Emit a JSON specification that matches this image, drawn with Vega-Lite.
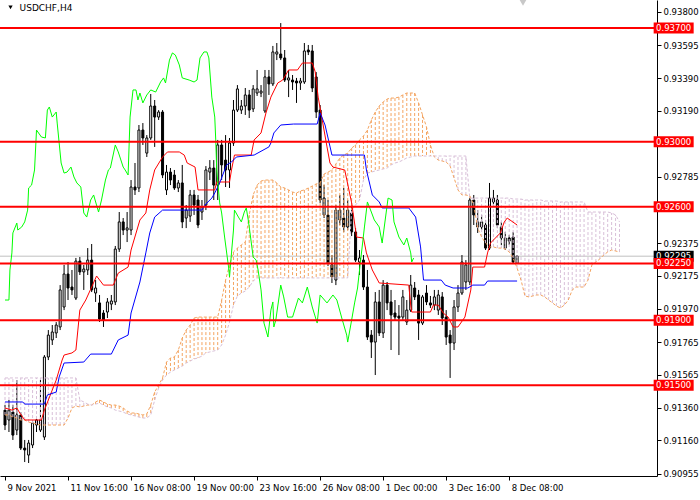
{
"$schema": "https://vega.github.io/schema/vega-lite/v6.json",
"width": 657, "height": 476,
"autosize": {"type": "none"},
"padding": {"left": 0, "top": 0, "right": 43, "bottom": 24},
"background": "#ffffff",
"config": {"view": {"stroke": null}},
"resolve": {"axis": {"x": "independent", "y": "independent"}},
"datasets": {
"candles": [
{"i":0,"o":0.91347,"h":0.91378,"l":0.91224,"c":0.91255},
{"i":1,"o":0.91286,"h":0.91409,"l":0.91212,"c":0.91347},
{"i":2,"o":0.91335,"h":0.91378,"l":0.91163,"c":0.91193},
{"i":3,"o":0.91224,"h":0.91532,"l":0.91193,"c":0.91317},
{"i":4,"o":0.91317,"h":0.91335,"l":0.91101,"c":0.91113},
{"i":5,"o":0.91113,"h":0.91163,"l":0.91027,"c":0.91101},
{"i":6,"o":0.91070,"h":0.91163,"l":0.91021,"c":0.91144},
{"i":7,"o":0.91132,"h":0.91286,"l":0.91113,"c":0.91267},
{"i":8,"o":0.91255,"h":0.91298,"l":0.91212,"c":0.91286},
{"i":9,"o":0.91224,"h":0.91532,"l":0.91212,"c":0.91286},
{"i":10,"o":0.91181,"h":0.91686,"l":0.91163,"c":0.91674},
{"i":11,"o":0.91674,"h":0.91840,"l":0.91655,"c":0.91809},
{"i":12,"o":0.91779,"h":0.91871,"l":0.91748,"c":0.91828},
{"i":13,"o":0.91822,"h":0.91889,"l":0.91791,"c":0.91871},
{"i":14,"o":0.91859,"h":0.92117,"l":0.91840,"c":0.92087},
{"i":15,"o":0.91982,"h":0.92241,"l":0.91963,"c":0.92185},
{"i":16,"o":0.92185,"h":0.92259,"l":0.92025,"c":0.92099},
{"i":17,"o":0.92105,"h":0.92210,"l":0.92056,"c":0.92087},
{"i":18,"o":0.92037,"h":0.92284,"l":0.92025,"c":0.92265},
{"i":19,"o":0.92265,"h":0.92290,"l":0.92179,"c":0.92198},
{"i":20,"o":0.92198,"h":0.92241,"l":0.92087,"c":0.92216},
{"i":21,"o":0.92210,"h":0.92345,"l":0.92179,"c":0.92271},
{"i":22,"o":0.92271,"h":0.92370,"l":0.92074,"c":0.92087},
{"i":23,"o":0.92068,"h":0.92148,"l":0.92013,"c":0.92099},
{"i":24,"o":0.92007,"h":0.92056,"l":0.91890,"c":0.91908},
{"i":25,"o":0.91945,"h":0.91963,"l":0.91859,"c":0.91902},
{"i":26,"o":0.91951,"h":0.92037,"l":0.91914,"c":0.92013},
{"i":27,"o":0.92000,"h":0.92056,"l":0.91963,"c":0.92019},
{"i":28,"o":0.92013,"h":0.92358,"l":0.91994,"c":0.92339},
{"i":29,"o":0.92339,"h":0.92567,"l":0.92321,"c":0.92506},
{"i":30,"o":0.92506,"h":0.92530,"l":0.92425,"c":0.92456},
{"i":31,"o":0.92456,"h":0.92567,"l":0.92382,"c":0.92469},
{"i":32,"o":0.92456,"h":0.92764,"l":0.92425,"c":0.92721},
{"i":33,"o":0.92721,"h":0.92869,"l":0.92672,"c":0.92703},
{"i":34,"o":0.92715,"h":0.93103,"l":0.92690,"c":0.93072},
{"i":35,"o":0.93072,"h":0.93115,"l":0.92980,"c":0.93023},
{"i":36,"o":0.92930,"h":0.93041,"l":0.92906,"c":0.93023},
{"i":37,"o":0.93023,"h":0.93294,"l":0.93011,"c":0.93220},
{"i":38,"o":0.93220,"h":0.93257,"l":0.92968,"c":0.93152},
{"i":39,"o":0.93152,"h":0.93195,"l":0.93134,"c":0.93183},
{"i":40,"o":0.93183,"h":0.93195,"l":0.92776,"c":0.92795},
{"i":41,"o":0.92703,"h":0.92857,"l":0.92672,"c":0.92813},
{"i":42,"o":0.92813,"h":0.92838,"l":0.92733,"c":0.92764},
{"i":43,"o":0.92795,"h":0.92826,"l":0.92703,"c":0.92715},
{"i":44,"o":0.92715,"h":0.92764,"l":0.92690,"c":0.92746},
{"i":45,"o":0.92746,"h":0.92857,"l":0.92468,"c":0.92506},
{"i":46,"o":0.92530,"h":0.92610,"l":0.92468,"c":0.92579},
{"i":47,"o":0.92542,"h":0.92703,"l":0.92506,"c":0.92672},
{"i":48,"o":0.92672,"h":0.92703,"l":0.92549,"c":0.92610},
{"i":49,"o":0.92641,"h":0.92672,"l":0.92468,"c":0.92487},
{"i":50,"o":0.92567,"h":0.92641,"l":0.92518,"c":0.92598},
{"i":51,"o":0.92610,"h":0.92850,"l":0.92579,"c":0.92826},
{"i":52,"o":0.92813,"h":0.92887,"l":0.92764,"c":0.92838},
{"i":53,"o":0.92838,"h":0.92887,"l":0.92641,"c":0.92733},
{"i":54,"o":0.92733,"h":0.93011,"l":0.92641,"c":0.92980},
{"i":55,"o":0.92980,"h":0.93011,"l":0.92764,"c":0.92857},
{"i":56,"o":0.92887,"h":0.93041,"l":0.92721,"c":0.92826},
{"i":57,"o":0.92826,"h":0.93023,"l":0.92715,"c":0.92992},
{"i":58,"o":0.92992,"h":0.93257,"l":0.92974,"c":0.93195},
{"i":59,"o":0.93195,"h":0.93349,"l":0.93183,"c":0.93325},
{"i":60,"o":0.93195,"h":0.93257,"l":0.93171,"c":0.93220},
{"i":61,"o":0.93220,"h":0.93331,"l":0.93165,"c":0.93288},
{"i":62,"o":0.93288,"h":0.93319,"l":0.93146,"c":0.93195},
{"i":63,"o":0.93202,"h":0.93349,"l":0.93183,"c":0.93325},
{"i":64,"o":0.93300,"h":0.93442,"l":0.93282,"c":0.93325},
{"i":65,"o":0.93300,"h":0.93349,"l":0.93275,"c":0.93312},
{"i":66,"o":0.93189,"h":0.93442,"l":0.93177,"c":0.93399},
{"i":67,"o":0.93399,"h":0.93442,"l":0.93288,"c":0.93356},
{"i":68,"o":0.93356,"h":0.93590,"l":0.93343,"c":0.93553},
{"i":69,"o":0.93540,"h":0.93608,"l":0.93503,"c":0.93553},
{"i":70,"o":0.93540,"h":0.93731,"l":0.93503,"c":0.93516},
{"i":71,"o":0.93516,"h":0.93565,"l":0.93368,"c":0.93380},
{"i":72,"o":0.93380,"h":0.93442,"l":0.93275,"c":0.93393},
{"i":73,"o":0.93380,"h":0.93411,"l":0.93319,"c":0.93368},
{"i":74,"o":0.93374,"h":0.93393,"l":0.93239,"c":0.93362},
{"i":75,"o":0.93362,"h":0.93393,"l":0.93319,"c":0.93374},
{"i":76,"o":0.93368,"h":0.93608,"l":0.93356,"c":0.93559},
{"i":77,"o":0.93565,"h":0.93596,"l":0.93534,"c":0.93553},
{"i":78,"o":0.93559,"h":0.93596,"l":0.93306,"c":0.93331},
{"i":79,"o":0.93399,"h":0.93429,"l":0.93146,"c":0.93183},
{"i":80,"o":0.93195,"h":0.93226,"l":0.92623,"c":0.92641},
{"i":81,"o":0.92549,"h":0.92733,"l":0.92530,"c":0.92653},
{"i":82,"o":0.92549,"h":0.92641,"l":0.92234,"c":0.92253},
{"i":83,"o":0.92241,"h":0.92302,"l":0.92130,"c":0.92167},
{"i":84,"o":0.92148,"h":0.92610,"l":0.92117,"c":0.92579},
{"i":85,"o":0.92518,"h":0.92672,"l":0.92487,"c":0.92579},
{"i":86,"o":0.92530,"h":0.92715,"l":0.92444,"c":0.92475},
{"i":87,"o":0.92475,"h":0.92641,"l":0.92456,"c":0.92579},
{"i":88,"o":0.92561,"h":0.92610,"l":0.92419,"c":0.92444},
{"i":89,"o":0.92444,"h":0.92468,"l":0.92259,"c":0.92271},
{"i":90,"o":0.92259,"h":0.92333,"l":0.92179,"c":0.92284},
{"i":91,"o":0.92271,"h":0.92302,"l":0.92087,"c":0.92105},
{"i":92,"o":0.92105,"h":0.92210,"l":0.91779,"c":0.91797},
{"i":93,"o":0.91809,"h":0.91840,"l":0.91668,"c":0.91766},
{"i":94,"o":0.91766,"h":0.92074,"l":0.91563,"c":0.92013},
{"i":95,"o":0.92013,"h":0.92087,"l":0.91803,"c":0.91822},
{"i":96,"o":0.91822,"h":0.92148,"l":0.91791,"c":0.92117},
{"i":97,"o":0.92117,"h":0.92136,"l":0.91963,"c":0.92007},
{"i":98,"o":0.92013,"h":0.92087,"l":0.91717,"c":0.91933},
{"i":99,"o":0.91945,"h":0.92025,"l":0.91902,"c":0.91920},
{"i":100,"o":0.91926,"h":0.91994,"l":0.91686,"c":0.91914},
{"i":101,"o":0.91920,"h":0.92087,"l":0.91902,"c":0.92044},
{"i":102,"o":0.91890,"h":0.92025,"l":0.91871,"c":0.91963},
{"i":103,"o":0.91963,"h":0.92179,"l":0.91951,"c":0.92117},
{"i":104,"o":0.92099,"h":0.92136,"l":0.92025,"c":0.92044},
{"i":105,"o":0.92056,"h":0.92087,"l":0.91779,"c":0.91883},
{"i":106,"o":0.91883,"h":0.92056,"l":0.91871,"c":0.92044},
{"i":107,"o":0.92068,"h":0.92117,"l":0.91994,"c":0.92013},
{"i":108,"o":0.92007,"h":0.92050,"l":0.91976,"c":0.91994},
{"i":109,"o":0.91994,"h":0.92087,"l":0.91963,"c":0.92044},
{"i":110,"o":0.91963,"h":0.92087,"l":0.91933,"c":0.92056},
{"i":111,"o":0.92044,"h":0.92074,"l":0.91871,"c":0.91914},
{"i":112,"o":0.91920,"h":0.91963,"l":0.91748,"c":0.91797},
{"i":113,"o":0.91809,"h":0.91840,"l":0.91545,"c":0.91760},
{"i":114,"o":0.91760,"h":0.92025,"l":0.91717,"c":0.91982},
{"i":115,"o":0.91982,"h":0.92117,"l":0.91951,"c":0.92068},
{"i":116,"o":0.92068,"h":0.92302,"l":0.92056,"c":0.92259},
{"i":117,"o":0.92136,"h":0.92271,"l":0.92087,"c":0.92241},
{"i":118,"o":0.92136,"h":0.92653,"l":0.92117,"c":0.92641},
{"i":119,"o":0.92641,"h":0.92672,"l":0.92487,"c":0.92549},
{"i":120,"o":0.92475,"h":0.92579,"l":0.92438,"c":0.92506},
{"i":121,"o":0.92475,"h":0.92549,"l":0.92456,"c":0.92506},
{"i":122,"o":0.92487,"h":0.92518,"l":0.92333,"c":0.92345},
{"i":123,"o":0.92345,"h":0.92746,"l":0.92333,"c":0.92653},
{"i":124,"o":0.92629,"h":0.92703,"l":0.92610,"c":0.92653},
{"i":125,"o":0.92641,"h":0.92672,"l":0.92468,"c":0.92487},
{"i":126,"o":0.92475,"h":0.92506,"l":0.92364,"c":0.92407},
{"i":127,"o":0.92345,"h":0.92444,"l":0.92333,"c":0.92407},
{"i":128,"o":0.92407,"h":0.92425,"l":0.92364,"c":0.92388},
{"i":129,"o":0.92413,"h":0.92444,"l":0.92247,"c":0.92259},
{"i":130,"o":0.92253,"h":0.92302,"l":0.92247,"c":0.92295}
],
"cloud": [
{"i":0,"a":0.91317,"b":0.91545},{"i":1,"a":0.91317,"b":0.91545},{"i":2,"a":0.91304,"b":0.91545},{"i":3,"a":0.91298,"b":0.91545},
{"i":4,"a":0.91286,"b":0.91545},{"i":5,"a":0.91286,"b":0.91545},{"i":6,"a":0.91273,"b":0.91545},{"i":7,"a":0.91267,"b":0.91545},
{"i":8,"a":0.91261,"b":0.91545},{"i":9,"a":0.91255,"b":0.91545},{"i":10,"a":0.91255,"b":0.91545},{"i":11,"a":0.91255,"b":0.91545},
{"i":12,"a":0.91255,"b":0.91545},{"i":13,"a":0.91255,"b":0.91545},{"i":14,"a":0.91255,"b":0.91545},{"i":15,"a":0.91255,"b":0.91545},
{"i":16,"a":0.91298,"b":0.91545},{"i":17,"a":0.91360,"b":0.91545},{"i":18,"a":0.91372,"b":0.91545},{"i":19,"a":0.91366,"b":0.91409},
{"i":20,"a":0.91372,"b":0.91397},{"i":21,"a":0.91378,"b":0.91384},{"i":22,"a":0.91378,"b":0.91378},{"i":23,"a":0.91397,"b":0.91384},
{"i":24,"a":0.91409,"b":0.91390},{"i":25,"a":0.91397,"b":0.91378},{"i":26,"a":0.91384,"b":0.91366},{"i":27,"a":0.91378,"b":0.91360},
{"i":28,"a":0.91378,"b":0.91347},{"i":29,"a":0.91372,"b":0.91341},{"i":30,"a":0.91360,"b":0.91335},{"i":31,"a":0.91341,"b":0.91323},
{"i":32,"a":0.91329,"b":0.91317},{"i":33,"a":0.91329,"b":0.91311},{"i":34,"a":0.91323,"b":0.91304},{"i":35,"a":0.91317,"b":0.91298},
{"i":36,"a":0.91323,"b":0.91298},{"i":37,"a":0.91378,"b":0.91317},{"i":38,"a":0.91458,"b":0.91409},{"i":39,"a":0.91501,"b":0.91483},
{"i":40,"a":0.91545,"b":0.91532},{"i":41,"a":0.91643,"b":0.91563},{"i":42,"a":0.91668,"b":0.91581},{"i":43,"a":0.91674,"b":0.91594},
{"i":44,"a":0.91717,"b":0.91606},{"i":45,"a":0.91791,"b":0.91618},{"i":46,"a":0.91840,"b":0.91637},{"i":47,"a":0.91871,"b":0.91649},
{"i":48,"a":0.91914,"b":0.91662},{"i":49,"a":0.91920,"b":0.91668},{"i":50,"a":0.91920,"b":0.91680},{"i":51,"a":0.91920,"b":0.91699},
{"i":52,"a":0.91920,"b":0.91705},{"i":53,"a":0.91920,"b":0.91711},{"i":54,"a":0.91920,"b":0.91717},{"i":55,"a":0.92025,"b":0.91748},
{"i":56,"a":0.92148,"b":0.91809},{"i":57,"a":0.92241,"b":0.91889},{"i":58,"a":0.92321,"b":0.91994},{"i":59,"a":0.92345,"b":0.92050},
{"i":60,"a":0.92364,"b":0.92068},{"i":61,"a":0.92382,"b":0.92080},{"i":62,"a":0.92549,"b":0.92105},{"i":63,"a":0.92672,"b":0.92142},
{"i":64,"a":0.92733,"b":0.92161},{"i":65,"a":0.92758,"b":0.92161},{"i":66,"a":0.92764,"b":0.92161},{"i":67,"a":0.92764,"b":0.92161},
{"i":68,"a":0.92764,"b":0.92161},{"i":69,"a":0.92746,"b":0.92161},{"i":70,"a":0.92721,"b":0.92161},{"i":71,"a":0.92715,"b":0.92161},
{"i":72,"a":0.92703,"b":0.92161},{"i":73,"a":0.92690,"b":0.92161},{"i":74,"a":0.92684,"b":0.92161},{"i":75,"a":0.92697,"b":0.92161},
{"i":76,"a":0.92703,"b":0.92161},{"i":77,"a":0.92715,"b":0.92161},{"i":78,"a":0.92727,"b":0.92161},{"i":79,"a":0.92740,"b":0.92161},
{"i":80,"a":0.92746,"b":0.92161},{"i":81,"a":0.92801,"b":0.92161},{"i":82,"a":0.92813,"b":0.92161},{"i":83,"a":0.92826,"b":0.92161},
{"i":84,"a":0.92863,"b":0.92161},{"i":85,"a":0.92900,"b":0.92161},{"i":86,"a":0.92918,"b":0.92161},{"i":87,"a":0.92930,"b":0.92161},
{"i":88,"a":0.92961,"b":0.92579},{"i":89,"a":0.92980,"b":0.92610},{"i":90,"a":0.93011,"b":0.92641},{"i":91,"a":0.93035,"b":0.92764},
{"i":92,"a":0.93072,"b":0.92807},{"i":93,"a":0.93134,"b":0.92813},{"i":94,"a":0.93183,"b":0.92820},{"i":95,"a":0.93220,"b":0.92826},
{"i":96,"a":0.93245,"b":0.92832},{"i":97,"a":0.93263,"b":0.92838},{"i":98,"a":0.93269,"b":0.92857},{"i":99,"a":0.93269,"b":0.92869},
{"i":100,"a":0.93275,"b":0.92875},{"i":101,"a":0.93288,"b":0.92887},{"i":102,"a":0.93300,"b":0.92900},{"i":103,"a":0.93300,"b":0.92906},
{"i":104,"a":0.93300,"b":0.92912},{"i":105,"a":0.93239,"b":0.92912},{"i":106,"a":0.93165,"b":0.92912},{"i":107,"a":0.93091,"b":0.92912},
{"i":108,"a":0.92980,"b":0.92912},{"i":109,"a":0.92906,"b":0.92912},{"i":110,"a":0.92887,"b":0.92912},{"i":111,"a":0.92881,"b":0.92912},
{"i":112,"a":0.92875,"b":0.92912},{"i":113,"a":0.92850,"b":0.92912},{"i":114,"a":0.92777,"b":0.92912},{"i":115,"a":0.92703,"b":0.92912},
{"i":116,"a":0.92672,"b":0.92912},{"i":117,"a":0.92672,"b":0.92912},{"i":118,"a":0.92666,"b":0.92653},{"i":119,"a":0.92610,"b":0.92653},
{"i":120,"a":0.92468,"b":0.92653},{"i":121,"a":0.92413,"b":0.92653},{"i":122,"a":0.92376,"b":0.92653},{"i":123,"a":0.92352,"b":0.92653},
{"i":124,"a":0.92352,"b":0.92653},{"i":125,"a":0.92345,"b":0.92653},{"i":126,"a":0.92345,"b":0.92653},{"i":127,"a":0.92339,"b":0.92653},
{"i":128,"a":0.92321,"b":0.92653},{"i":129,"a":0.92284,"b":0.92647},{"i":130,"a":0.92222,"b":0.92647},{"i":131,"a":0.92148,"b":0.92647},
{"i":132,"a":0.92050,"b":0.92641},{"i":133,"a":0.92044,"b":0.92641},{"i":134,"a":0.92050,"b":0.92641},{"i":135,"a":0.92056,"b":0.92641},
{"i":136,"a":0.92056,"b":0.92641},{"i":137,"a":0.92044,"b":0.92635},{"i":138,"a":0.92025,"b":0.92635},{"i":139,"a":0.92007,"b":0.92635},
{"i":140,"a":0.91988,"b":0.92635},{"i":141,"a":0.91976,"b":0.92629},{"i":142,"a":0.91994,"b":0.92629},{"i":143,"a":0.92025,"b":0.92629},
{"i":144,"a":0.92087,"b":0.92629},{"i":145,"a":0.92105,"b":0.92629},{"i":146,"a":0.92105,"b":0.92629},{"i":147,"a":0.92105,"b":0.92629},
{"i":148,"a":0.92148,"b":0.92567},{"i":149,"a":0.92241,"b":0.92567},{"i":150,"a":0.92259,"b":0.92567},{"i":151,"a":0.92278,"b":0.92567},
{"i":152,"a":0.92302,"b":0.92567},{"i":153,"a":0.92321,"b":0.92567},{"i":154,"a":0.92333,"b":0.92561},{"i":155,"a":0.92327,"b":0.92549},
{"i":156,"a":0.92321,"b":0.92506}
],
"tenkan": [
{"i":0,"v":0.91360},{"i":1.75,"v":0.91347},{"i":3,"v":0.91360},{"i":3.75,"v":0.91329},{"i":5,"v":0.91286},{"i":9.25,"v":0.91286},
{"i":10,"v":0.91347},{"i":11.5,"v":0.91440},{"i":13,"v":0.91532},{"i":14.5,"v":0.91655},{"i":15,"v":0.91686},{"i":17,"v":0.91699},
{"i":18,"v":0.91717},{"i":18.5,"v":0.91840},{"i":19,"v":0.91963},{"i":20.5,"v":0.92025},{"i":22,"v":0.92105},{"i":23.25,"v":0.92173},
{"i":25,"v":0.92117},{"i":27.5,"v":0.92117},{"i":28.75,"v":0.92191},{"i":31.25,"v":0.92228},{"i":32,"v":0.92333},{"i":34.25,"v":0.92518},
{"i":35.75,"v":0.92561},{"i":36.75,"v":0.92703},{"i":38,"v":0.92826},{"i":40,"v":0.92906},{"i":41.25,"v":0.92937},{"i":44.25,"v":0.92937},
{"i":45.5,"v":0.92918},{"i":46.25,"v":0.92869},{"i":48.25,"v":0.92844},{"i":49,"v":0.92703},{"i":53.25,"v":0.92703},{"i":53.75,"v":0.92752},
{"i":57,"v":0.92752},{"i":57.5,"v":0.92826},{"i":58.25,"v":0.92918},{"i":62.5,"v":0.92918},{"i":63.25,"v":0.93011},{"i":65,"v":0.93054},
{"i":66.25,"v":0.93177},{"i":67.5,"v":0.93275},{"i":69.25,"v":0.93362},{"i":70.5,"v":0.93380},{"i":72,"v":0.93442},{"i":74.25,"v":0.93442},
{"i":75.5,"v":0.93485},{"i":78,"v":0.93485},{"i":78.75,"v":0.93430},{"i":79.5,"v":0.93275},{"i":81.75,"v":0.92968},{"i":82.5,"v":0.92869},
{"i":83.25,"v":0.92844},{"i":86.25,"v":0.92826},{"i":88,"v":0.92623},{"i":89.25,"v":0.92413},{"i":91,"v":0.92407},{"i":91.75,"v":0.92315},
{"i":93.25,"v":0.92210},{"i":95,"v":0.92130},{"i":102.5,"v":0.92117},{"i":103,"v":0.91994},{"i":103.25,"v":0.91951},{"i":108,"v":0.91951},
{"i":108.75,"v":0.91994},{"i":110,"v":0.91994},{"i":111.25,"v":0.91945},{"i":112.5,"v":0.91920},{"i":113.75,"v":0.91859},{"i":115,"v":0.91859},
{"i":116.75,"v":0.91920},{"i":118.25,"v":0.92087},{"i":118.75,"v":0.92228},{"i":121.75,"v":0.92228},{"i":122.5,"v":0.92315},{"i":123.25,"v":0.92376},
{"i":125.75,"v":0.92438},{"i":126.75,"v":0.92506},{"i":127.5,"v":0.92530},{"i":130,"v":0.92487}
],
"kijun": [
{"i":0,"v":0.91397},{"i":4.5,"v":0.91397},{"i":5,"v":0.91384},{"i":10,"v":0.91384},{"i":10.75,"v":0.91440},{"i":13,"v":0.91458},
{"i":13.75,"v":0.91551},{"i":15,"v":0.91637},{"i":20,"v":0.91643},{"i":21.75,"v":0.91692},{"i":27,"v":0.91692},{"i":28.75,"v":0.91779},
{"i":31.25,"v":0.91809},{"i":32,"v":0.91945},{"i":34.25,"v":0.92136},{"i":35.75,"v":0.92315},{"i":36.75,"v":0.92438},{"i":38,"v":0.92536},
{"i":40,"v":0.92579},{"i":50,"v":0.92579},{"i":50.75,"v":0.92610},{"i":52.5,"v":0.92653},{"i":53.25,"v":0.92684},{"i":54.5,"v":0.92746},
{"i":56.25,"v":0.92857},{"i":57.5,"v":0.92875},{"i":58.75,"v":0.92906},{"i":63.25,"v":0.92918},{"i":67,"v":0.92968},{"i":67.5,"v":0.92992},
{"i":68.25,"v":0.93054},{"i":70,"v":0.93103},{"i":73.25,"v":0.93109},{"i":79.25,"v":0.93109},{"i":80,"v":0.93177},{"i":81.25,"v":0.93103},
{"i":83,"v":0.92918},{"i":91.25,"v":0.92918},{"i":91.75,"v":0.92826},{"i":93.25,"v":0.92672},{"i":95,"v":0.92629},{"i":95.75,"v":0.92592},
{"i":102.5,"v":0.92592},{"i":104.25,"v":0.92536},{"i":105.5,"v":0.92352},{"i":106.25,"v":0.92148},{"i":110.75,"v":0.92148},{"i":111.75,"v":0.92117},
{"i":113.75,"v":0.92099},{"i":117.5,"v":0.92099},{"i":118.75,"v":0.92117},{"i":121.75,"v":0.92117},{"i":122.5,"v":0.92142},{"i":130,"v":0.92142}
],
"chikou": [
{"i":0,"v":0.92025},{"i":1,"v":0.92025},{"i":1.25,"v":0.92210},{"i":1.75,"v":0.92315},{"i":2,"v":0.92438},{"i":3,"v":0.92499},
{"i":3.25,"v":0.92456},{"i":4.25,"v":0.92475},{"i":5,"v":0.92506},{"i":5.75,"v":0.92579},{"i":6,"v":0.92715},{"i":6.75,"v":0.92733},
{"i":7.5,"v":0.92826},{"i":8,"v":0.93072},{"i":9.25,"v":0.93029},{"i":10.25,"v":0.93023},{"i":10.75,"v":0.93195},{"i":11.25,"v":0.93214},
{"i":12,"v":0.93152},{"i":13,"v":0.93183},{"i":13.25,"v":0.93115},{"i":14.25,"v":0.92869},{"i":15,"v":0.92807},{"i":15.75,"v":0.92813},
{"i":16.75,"v":0.92844},{"i":17.5,"v":0.92783},{"i":18.25,"v":0.92746},{"i":19.25,"v":0.92721},{"i":20,"v":0.92561},{"i":20.75,"v":0.92536},
{"i":21.75,"v":0.92641},{"i":22.5,"v":0.92672},{"i":23.75,"v":0.92567},{"i":24.5,"v":0.92641},{"i":25.5,"v":0.92764},{"i":26.25,"v":0.92826},
{"i":26.75,"v":0.92838},{"i":28,"v":0.92980},{"i":28.75,"v":0.92937},{"i":30,"v":0.92844},{"i":30.5,"v":0.92826},{"i":31.25,"v":0.92795},
{"i":31.75,"v":0.93152},{"i":32.5,"v":0.93319},{"i":33.25,"v":0.93319},{"i":33.75,"v":0.93257},{"i":34.25,"v":0.93300},{"i":35,"v":0.93239},
{"i":36,"v":0.93288},{"i":37,"v":0.93319},{"i":38.25,"v":0.93306},{"i":39.5,"v":0.93368},{"i":40.25,"v":0.93393},{"i":40.75,"v":0.93362},
{"i":41.75,"v":0.93503},{"i":42.5,"v":0.93547},{"i":43.25,"v":0.93534},{"i":44.25,"v":0.93473},{"i":45,"v":0.93393},{"i":46.75,"v":0.93380},
{"i":48,"v":0.93368},{"i":48.75,"v":0.93380},{"i":49.5,"v":0.93516},{"i":50.5,"v":0.93553},{"i":51.25,"v":0.93553},{"i":51.75,"v":0.93516},
{"i":52.5,"v":0.93275},{"i":53.25,"v":0.93152},{"i":53.5,"v":0.93011},{"i":53.75,"v":0.92826},{"i":54.5,"v":0.92623},{"i":55,"v":0.92561},
{"i":55.75,"v":0.92413},{"i":56.75,"v":0.92228},{"i":57,"v":0.92167},{"i":57.5,"v":0.92315},{"i":58,"v":0.92456},{"i":58.25,"v":0.92579},
{"i":59.25,"v":0.92536},{"i":60,"v":0.92506},{"i":60.75,"v":0.92567},{"i":61.25,"v":0.92592},{"i":61.75,"v":0.92518},{"i":62,"v":0.92475},
{"i":63,"v":0.92290},{"i":63.75,"v":0.92271},{"i":64.25,"v":0.92210},{"i":65,"v":0.92087},{"i":65.75,"v":0.91883},{"i":66.75,"v":0.91797},
{"i":67.5,"v":0.91963},{"i":68,"v":0.92013},{"i":68.25,"v":0.91859},{"i":68.75,"v":0.91902},{"i":70,"v":0.92117},{"i":70.75,"v":0.92044},
{"i":71.75,"v":0.91920},{"i":73,"v":0.91920},{"i":74.5,"v":0.92037},{"i":75.5,"v":0.92007},{"i":76.75,"v":0.92105},{"i":78,"v":0.91982},
{"i":79.25,"v":0.91883},{"i":80,"v":0.92056},{"i":81.75,"v":0.92007},{"i":83.25,"v":0.92056},{"i":84.25,"v":0.92025},{"i":85.5,"v":0.91914},
{"i":86.75,"v":0.91809},{"i":87,"v":0.91766},{"i":88,"v":0.91902},{"i":88.75,"v":0.92007},{"i":89.5,"v":0.92099},{"i":90,"v":0.92210},
{"i":91.25,"v":0.92475},{"i":92,"v":0.92629},{"i":93,"v":0.92567},{"i":93.75,"v":0.92518},{"i":95,"v":0.92475},{"i":95.75,"v":0.92376},
{"i":96.75,"v":0.92561},{"i":97.25,"v":0.92653},{"i":98.25,"v":0.92641},{"i":98.75,"v":0.92506},{"i":100,"v":0.92413},{"i":101.25,"v":0.92364},
{"i":102,"v":0.92407},{"i":103,"v":0.92315},{"i":103.25,"v":0.92259},{"i":103.75,"v":0.92284}
],
"levels": [{"p":0.937},{"p":0.930},{"p":0.926},{"p":0.9225},{"p":0.919},{"p":0.915}],
"bid": [{"p":0.92295}],
"title": [{"t":"USDCHF,H4"}]
},
"layer": [
{"data":{"name":"bid"},"mark":{"type":"rule","color":"#c0c0c0","strokeWidth":1},
 "encoding":{"y":{"field":"p","type":"quantitative","scale":{"domain":[0.90941,0.93873],"nice":false,"zero":false},
  "axis":{"orient":"right","values":[0.938,0.93595,0.9339,0.9319,0.92785,0.92375,0.92175,0.9197,0.91765,0.91565,0.9136,0.9116,0.90955],"format":".5f","title":null,"grid":false,"tickSize":4,"tickColor":"#000000","domainColor":"#000000","labelFont":"DejaVu Sans","labelFontSize":8.5,"labelColor":"#000000","labelPadding":2,"labelFlush":false,"labelOverlap":false,"labelBound":false}}}},
{"data":{"name":"candles"},"mark":{"type":"rule","color":"#000000","strokeWidth":1},
 "encoding":{"x":{"field":"i","type":"quantitative","scale":{"domain":[0,164.25],"nice":false,"zero":false},
  "axis":{"orient":"bottom","values":[0,16,32,48,64,80,96,112,128],"labelExpr":"datum.value==0?'9 Nov 2021':datum.value==16?'11 Nov 16:00':datum.value==32?'16 Nov 08:00':datum.value==48?'19 Nov 00:00':datum.value==64?'23 Nov 16:00':datum.value==80?'26 Nov 08:00':datum.value==96?'1 Dec 00:00':datum.value==112?'3 Dec 16:00':'8 Dec 08:00'","title":null,"grid":false,"tickSize":4,"tickColor":"#000000","domainColor":"#000000","labelAlign":"left","labelBaseline":"top","labelFont":"DejaVu Sans","labelFontSize":8.5,"labelColor":"#000000","labelPadding":3,"labelOffset":2,"labelOverlap":false,"labelFlush":false,"labelBound":false}},
  "y":{"field":"l","type":"quantitative","scale":{"domain":[0.90941,0.93873],"nice":false,"zero":false},"axis":null},
  "y2":{"field":"h"}}},
{"data":{"name":"candles"},"mark":{"type":"bar","width":2,"stroke":"#000000","strokeWidth":1},
 "encoding":{"x":{"field":"i","type":"quantitative","scale":{"domain":[0,164.25],"nice":false,"zero":false},"axis":null},
  "y":{"field":"o","type":"quantitative","scale":{"domain":[0.90941,0.93873],"nice":false,"zero":false},"axis":null},
  "y2":{"field":"c"},
  "fill":{"condition":{"test":"datum.c >= datum.o","value":"#ffffff"},"value":"#000000"}}},
{"data":{"name":"cloud"},"mark":{"type":"rule","strokeWidth":1,"strokeDash":[3,2]},
 "encoding":{"x":{"field":"i","type":"quantitative","scale":{"domain":[0,164.25],"nice":false,"zero":false},"axis":null},
  "y":{"field":"a","type":"quantitative","scale":{"domain":[0.90941,0.93873],"nice":false,"zero":false},"axis":null},
  "y2":{"field":"b"},
  "color":{"condition":{"test":"datum.a >= datum.b","value":"#f4a460"},"value":"#d8bfd8"}}},
{"data":{"name":"cloud"},"mark":{"type":"line","color":"#f4a460","strokeWidth":1,"strokeDash":[3,2]},
 "encoding":{"x":{"field":"i","type":"quantitative","scale":{"domain":[0,164.25],"nice":false,"zero":false},"axis":null},
  "y":{"field":"a","type":"quantitative","scale":{"domain":[0.90941,0.93873],"nice":false,"zero":false},"axis":null}}},
{"data":{"name":"cloud"},"mark":{"type":"line","color":"#d8bfd8","strokeWidth":1,"strokeDash":[3,2]},
 "encoding":{"x":{"field":"i","type":"quantitative","scale":{"domain":[0,164.25],"nice":false,"zero":false},"axis":null},
  "y":{"field":"b","type":"quantitative","scale":{"domain":[0.90941,0.93873],"nice":false,"zero":false},"axis":null}}},
{"data":{"name":"tenkan"},"mark":{"type":"line","color":"#ff0000","strokeWidth":1},
 "encoding":{"x":{"field":"i","type":"quantitative","scale":{"domain":[0,164.25],"nice":false,"zero":false},"axis":null},
  "y":{"field":"v","type":"quantitative","scale":{"domain":[0.90941,0.93873],"nice":false,"zero":false},"axis":null}}},
{"data":{"name":"kijun"},"mark":{"type":"line","color":"#0000ff","strokeWidth":1},
 "encoding":{"x":{"field":"i","type":"quantitative","scale":{"domain":[0,164.25],"nice":false,"zero":false},"axis":null},
  "y":{"field":"v","type":"quantitative","scale":{"domain":[0.90941,0.93873],"nice":false,"zero":false},"axis":null}}},
{"data":{"name":"chikou"},"mark":{"type":"line","color":"#00ff00","strokeWidth":1},
 "encoding":{"x":{"field":"i","type":"quantitative","scale":{"domain":[0,164.25],"nice":false,"zero":false},"axis":null},
  "y":{"field":"v","type":"quantitative","scale":{"domain":[0.90941,0.93873],"nice":false,"zero":false},"axis":null}}},
{"data":{"name":"levels"},"mark":{"type":"rule","color":"#ff0000","strokeWidth":2},
 "encoding":{"y":{"field":"p","type":"quantitative","scale":{"domain":[0.90941,0.93873],"nice":false,"zero":false},"axis":null}}},
{"data":{"name":"bid"},"mark":{"type":"tick","orient":"horizontal","size":40,"thickness":11,"color":"#000000","opacity":1,"filled":true,"clip":false},
 "encoding":{"x":{"datum":169.75,"type":"quantitative","scale":{"domain":[0,164.25],"nice":false,"zero":false},"axis":null},
  "y":{"field":"p","type":"quantitative","scale":{"domain":[0.90941,0.93873],"nice":false,"zero":false},"axis":null}}},
{"data":{"name":"bid"},"mark":{"type":"text","color":"#ffffff","font":"DejaVu Sans","fontSize":8.5,"align":"center","baseline":"middle","clip":false},
 "encoding":{"x":{"datum":169.75,"type":"quantitative","scale":{"domain":[0,164.25],"nice":false,"zero":false},"axis":null},
  "y":{"field":"p","type":"quantitative","scale":{"domain":[0.90941,0.93873],"nice":false,"zero":false},"axis":null},
  "text":{"field":"p","type":"quantitative","format":".5f"}}},
{"data":{"name":"levels"},"mark":{"type":"tick","orient":"horizontal","size":40,"thickness":11,"color":"#ff0000","opacity":1,"filled":true,"clip":false},
 "encoding":{"x":{"datum":169.75,"type":"quantitative","scale":{"domain":[0,164.25],"nice":false,"zero":false},"axis":null},
  "y":{"field":"p","type":"quantitative","scale":{"domain":[0.90941,0.93873],"nice":false,"zero":false},"axis":null}}},
{"data":{"name":"levels"},"mark":{"type":"text","color":"#ffffff","font":"DejaVu Sans","fontSize":8.5,"align":"center","baseline":"middle","clip":false},
 "encoding":{"x":{"datum":169.75,"type":"quantitative","scale":{"domain":[0,164.25],"nice":false,"zero":false},"axis":null},
  "y":{"field":"p","type":"quantitative","scale":{"domain":[0.90941,0.93873],"nice":false,"zero":false},"axis":null},
  "text":{"field":"p","type":"quantitative","format":".5f"}}},
{"data":{"name":"title"},"mark":{"type":"text","color":"#000000","font":"DejaVu Sans","fontSize":9,"align":"left","baseline":"middle"},
 "encoding":{"x":{"datum":3.7,"type":"quantitative","scale":{"domain":[0,164.25],"nice":false,"zero":false},"axis":null},
  "y":{"datum":0.93824,"type":"quantitative","scale":{"domain":[0.90941,0.93873],"nice":false,"zero":false},"axis":null},
  "text":{"field":"t"}}},
{"data":{"name":"title"},"mark":{"type":"point","shape":"triangle-down","filled":true,"color":"#000000","size":18,"opacity":1},
 "encoding":{"x":{"datum":1.4,"type":"quantitative","scale":{"domain":[0,164.25],"nice":false,"zero":false},"axis":null},
  "y":{"datum":0.93828,"type":"quantitative","scale":{"domain":[0.90941,0.93873],"nice":false,"zero":false},"axis":null}}},
{"data":{"name":"title"},"mark":{"type":"point","shape":"triangle-down","filled":true,"color":"#c8c8c8","size":70,"opacity":1},
 "encoding":{"x":{"datum":131.5,"type":"quantitative","scale":{"domain":[0,164.25],"nice":false,"zero":false},"axis":null},
  "y":{"datum":0.93860,"type":"quantitative","scale":{"domain":[0.90941,0.93873],"nice":false,"zero":false},"axis":null}}}
]
}
